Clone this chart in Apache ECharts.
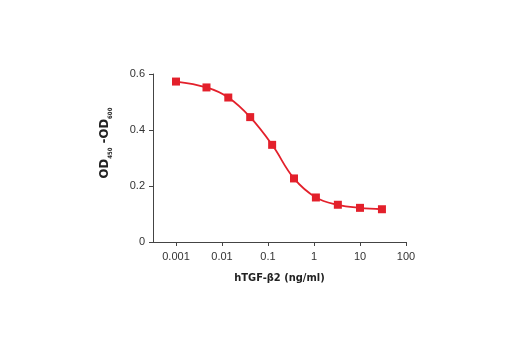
<!DOCTYPE html>
<html>
<head>
<meta charset="utf-8">
<script src="https://cdn.jsdelivr.net/npm/echarts@6/dist/echarts.min.js"></script>
<style>html,body{margin:0;padding:0;background:#fff;}#c{width:520px;height:350px;}</style>
</head>
<body>
<div id="c"></div>
<script>
// Concentration of hTGF-β2 (ng/ml)
var concentrations = [0.001, 0.0046, 0.0137, 0.041, 0.123, 0.367, 1.1, 3.3, 10, 30];
// OD450 - OD600
var odValues = [0.573, 0.552, 0.516, 0.446, 0.347, 0.227, 0.159, 0.133, 0.122, 0.117];
var xTickValues = [0.001, 0.01, 0.1, 1, 10, 100];
var xTickLabels = ['0.001', '0.01', '0.1', '1', '10', '100'];
var yTickValues = [0, 0.2, 0.4, 0.6];

var lg = function (v) { return Math.log10(v); };
var xTicksLog = xTickValues.map(lg);
var labelMap = {};
xTicksLog.forEach(function (v, i) { labelMap[v.toFixed(3)] = xTickLabels[i]; });

var titleFont = 'Liberation Sans Narrow, DejaVu Sans Condensed, Liberation Sans, sans-serif';
var chart = echarts.init(document.getElementById('c'), null, { renderer: 'canvas' });
var axisColor = '#444';
chart.setOption({
  backgroundColor: '#fff',
  animation: false,
  grid: { left: 153, right: 114, top: 74, bottom: 108, containLabel: false },
  xAxis: {
    type: 'value',
    min: -3.5,
    max: 2,
    name: 'hTGF-β2 (ng/ml)',
    nameLocation: 'middle',
    nameGap: 31,
    nameTextStyle: { fontFamily: titleFont, fontWeight: 'bold', fontSize: 11, color: '#222' },
    axisLine: { onZero: false, lineStyle: { color: axisColor, width: 1 } },
    axisTick: { show: true, length: 4, lineStyle: { color: axisColor }, customValues: xTicksLog },
    axisLabel: {
      customValues: xTicksLog,
      margin: 9,
      fontFamily: 'Liberation Sans, Arial, sans-serif',
      fontSize: 11,
      color: '#333',
      formatter: function (v) { return labelMap[v.toFixed(3)] || ''; }
    },
    splitLine: { show: false }
  },
  yAxis: {
    type: 'value',
    min: 0,
    max: 0.6,
    interval: 0.2,
    name: '{m|OD}{s|450}{m| -OD}{s|600}',
    nameLocation: 'middle',
    nameGap: 40,
    nameRotate: 90,
    nameTextStyle: {
      color: '#222',
      padding: [0, 0, 0, 30],
      rich: {
        m: { fontFamily: titleFont, fontWeight: 'bold', fontSize: 13, color: '#222', lineHeight: 16 },
        s: { fontFamily: titleFont, fontWeight: 'bold', fontSize: 6, color: '#222', verticalAlign: 'bottom', lineHeight: 16, padding: [8, 0, 0, 0] }
      }
    },
    axisLine: { show: true, onZero: false, lineStyle: { color: axisColor, width: 1 } },
    axisTick: { show: true, length: 4, lineStyle: { color: axisColor } },
    axisLabel: {
      margin: 8,
      fontFamily: 'Liberation Sans, Arial, sans-serif',
      fontSize: 11,
      color: '#333',
      formatter: function (v) { return v === 0 ? '0' : v.toFixed(1); }
    },
    splitLine: { show: false }
  },
  series: [{
    type: 'line',
    smooth: 0.4,
    data: concentrations.map(function (c, i) { return [lg(c), odValues[i]]; }),
    symbol: 'rect',
    symbolSize: 8,
    itemStyle: { color: '#e3202b' },
    lineStyle: { color: '#e3202b', width: 1.8 }
  }]
});
</script>
</body>
</html>
